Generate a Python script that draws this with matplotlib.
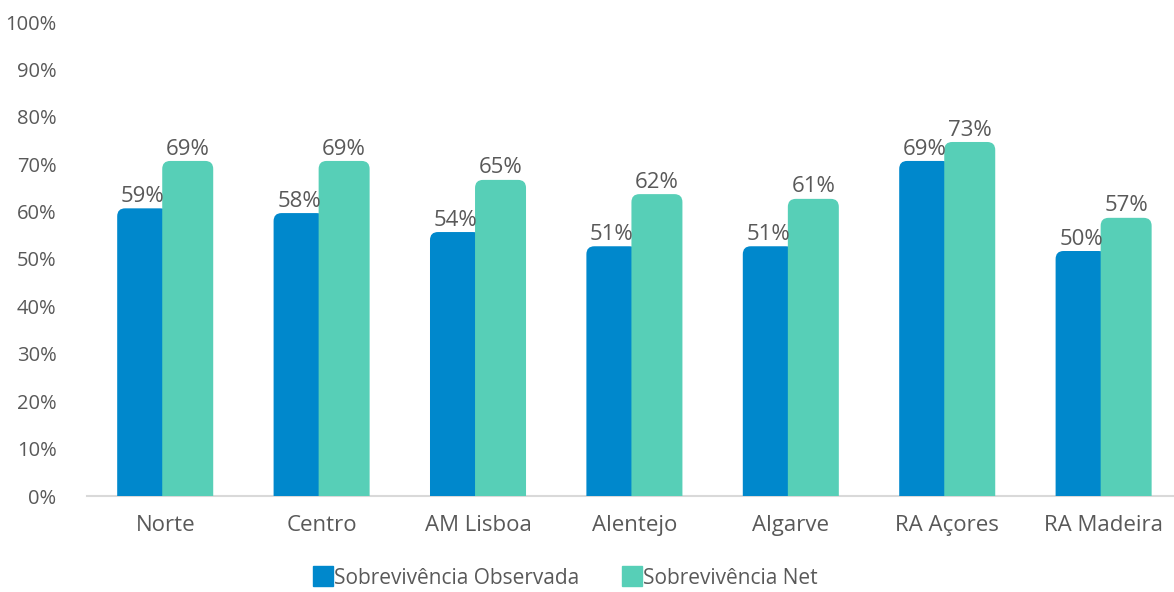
import numpy as np
import matplotlib.pyplot as plt
from matplotlib.patches import FancyBboxPatch
from matplotlib.lines import Line2D

plt.rcParams['font.family'] = ['Open Sans', 'DejaVu Sans']

regioes = ["Norte", "Centro", "AM Lisboa", "Alentejo", "Algarve", "RA Açores", "RA Madeira"]
observada = [59, 58, 54, 51, 51, 69, 50]
net = [69, 69, 65, 62, 61, 73, 57]
series_names = ["Sobrevivência Observada", "Sobrevivência Net"]

blue = "#0088CC"
green = "#57CFB7"
grey_txt = "#595959"

W, H = 1174, 592
fig = plt.figure(figsize=(W / 100, H / 100), dpi=100)
ax = fig.add_axes([87 / W, 96 / H, 1 - 87 / W, 474 / H])

xmin, xmax = -0.5, 6.45
ax.set_xlim(xmin, xmax)
ax.set_ylim(0, 100)

# rounded top corners, ~8 px radius
px_x = (xmax - xmin) / (W - 87)
px_y = 100 / 474
r = 8 * px_x
asp = px_y / px_x
cap = 8 * px_y

x = np.arange(len(regioes))
width = 0.326
off = 0.144

for vals, dx, col in [(observada, -off, blue), (net, off, green)]:
    bars = ax.bar(x + dx, vals, width, color=col)
    for b, v in zip(bars, vals):
        x0 = b.get_x()
        b.remove()
        p = FancyBboxPatch((x0, -5), width, v + 5 + cap,
                           boxstyle=f"round,pad=0,rounding_size={r}",
                           mutation_aspect=asp, fc=col, ec="none")
        ax.add_patch(p)
        ax.text(x0 + width / 2, v + cap + 0.3, f"{v}%", ha="center", va="bottom",
                fontsize=16, color=grey_txt)

ax.set_yticks(np.arange(0, 101, 10))
ax.set_yticklabels([f"{t}%" for t in range(0, 101, 10)])
ax.set_xticks(x)
ax.set_xticklabels(regioes)
ax.tick_params(axis="y", length=0, pad=22, labelsize=14.5, labelcolor=grey_txt)
ax.tick_params(axis="x", length=0, pad=14, labelsize=16, labelcolor=grey_txt)

for s in ["top", "right", "left"]:
    ax.spines[s].set_visible(False)
ax.spines["bottom"].set_color("#D9D9D9")
ax.spines["bottom"].set_linewidth(1.5)
ax.spines["bottom"].set_zorder(0)

handles = [Line2D([], [], marker="s", ls="none", markersize=14, color=c) for c in (blue, green)]
fig.legend(handles, series_names, loc="center", bbox_to_anchor=(565 / W, 1 - 578 / H),
           ncol=2, frameon=False, fontsize=15, handletextpad=0.05, columnspacing=2.0,
           labelcolor=grey_txt, handlelength=1.0)

fig.savefig("out.png", dpi=100)
